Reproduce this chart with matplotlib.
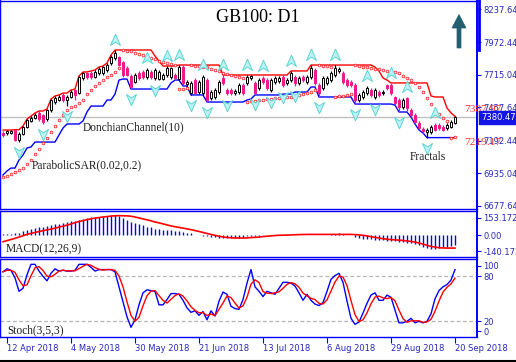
import numpy as np
import pandas as pd
import matplotlib
matplotlib.use("Agg")
import matplotlib.pyplot as plt
from matplotlib.path import Path
from matplotlib.patches import Polygon
import matplotlib.transforms as mtransforms

# ---------------- data ----------------
date_labels = ["12 Apr 2018", "4 May 2018", "30 May 2018", "21 Jun 2018",
               "13 Jul 2018", "6 Aug 2018", "29 Aug 2018", "20 Sep 2018"]
date_label_bars = [1, 17, 33, 49, 65, 81, 97, 113]

opens = [7256, 7256, 7256, 7279, 7200, 7248, 7303, 7351, 7374, 7414,
         7398, 7366, 7438, 7501, 7517, 7557, 7517, 7541, 7596, 7572,
         7691, 7731, 7731, 7699, 7731, 7731, 7755, 7810, 7850, 7858,
         7818, 7770, 7707, 7660, 7731, 7739, 7699, 7739, 7691, 7683,
         7683, 7715, 7699, 7715, 7683, 7778, 7644, 7572, 7675, 7580,
         7572, 7675, 7533, 7541, 7580, 7691, 7596, 7596, 7572, 7580,
         7636, 7652, 7691, 7652, 7612, 7691, 7675, 7596, 7660, 7667,
         7699, 7652, 7675, 7699, 7652, 7699, 7660, 7699, 7755, 7636,
         7612, 7652, 7675, 7715, 7747, 7731, 7675, 7660, 7636, 7517,
         7541, 7572, 7596, 7541, 7580, 7572, 7636, 7636, 7541, 7517,
         7462, 7533, 7438, 7398, 7335, 7287, 7264, 7264, 7319, 7319,
         7303, 7295, 7303, 7335]
highs = [7271, 7279, 7279, 7282, 7264, 7311, 7366, 7390, 7414, 7430,
         7406, 7446, 7525, 7549, 7557, 7572, 7557, 7596, 7604, 7707,
         7739, 7739, 7747, 7755, 7778, 7786, 7810, 7873, 7913, 7865,
         7826, 7786, 7723, 7731, 7747, 7755, 7770, 7755, 7770, 7755,
         7731, 7786, 7778, 7731, 7794, 7794, 7675, 7667, 7691, 7675,
         7715, 7691, 7596, 7612, 7675, 7715, 7612, 7612, 7604, 7652,
         7652, 7715, 7715, 7667, 7691, 7707, 7691, 7691, 7707, 7707,
         7715, 7691, 7747, 7715, 7707, 7715, 7715, 7794, 7770, 7652,
         7707, 7707, 7747, 7794, 7778, 7747, 7691, 7675, 7652, 7572,
         7596, 7628, 7612, 7612, 7596, 7596, 7644, 7652, 7549, 7533,
         7533, 7541, 7454, 7414, 7351, 7303, 7295, 7319, 7335, 7335,
         7319, 7335, 7359, 7387.97]
lows = [7224, 7240, 7248, 7192, 7184, 7240, 7295, 7343, 7366, 7351,
        7327, 7351, 7422, 7485, 7509, 7501, 7469, 7533, 7517, 7564,
        7675, 7683, 7683, 7691, 7715, 7715, 7739, 7794, 7834, 7786,
        7699, 7707, 7604, 7652, 7675, 7683, 7683, 7683, 7675, 7675,
        7675, 7699, 7683, 7675, 7675, 7628, 7628, 7557, 7557, 7564,
        7557, 7501, 7517, 7525, 7564, 7636, 7557, 7557, 7557, 7564,
        7557, 7636, 7675, 7564, 7596, 7644, 7596, 7580, 7644, 7652,
        7620, 7636, 7660, 7628, 7636, 7660, 7644, 7683, 7636, 7541,
        7596, 7636, 7660, 7699, 7731, 7644, 7620, 7620, 7485, 7501,
        7525, 7557, 7541, 7525, 7541, 7557, 7596, 7557, 7477, 7422,
        7446, 7430, 7382, 7327, 7279, 7256, 7219.17, 7248, 7271, 7279,
        7271, 7279, 7295, 7327]
closes = [7240, 7271, 7271, 7200, 7248, 7303, 7359, 7374, 7398, 7366,
          7343, 7438, 7517, 7533, 7541, 7517, 7541, 7580, 7557, 7699,
          7731, 7699, 7699, 7739, 7763, 7778, 7794, 7858, 7889, 7794,
          7715, 7715, 7620, 7715, 7691, 7699, 7755, 7699, 7755, 7739,
          7715, 7770, 7770, 7691, 7778, 7652, 7660, 7652, 7572, 7660,
          7699, 7517, 7580, 7596, 7660, 7652, 7572, 7572, 7588, 7636,
          7572, 7699, 7707, 7572, 7675, 7660, 7612, 7675, 7691, 7691,
          7636, 7675, 7731, 7652, 7691, 7675, 7699, 7770, 7652, 7572,
          7691, 7691, 7731, 7770, 7763, 7660, 7636, 7636, 7517, 7557,
          7580, 7612, 7557, 7596, 7557, 7580, 7612, 7572, 7493, 7462,
          7517, 7454, 7398, 7343, 7295, 7271, 7279, 7303, 7279, 7295,
          7279, 7319, 7343, 7380.47]

# highs / lows of the 9 bars before the visible window (for the Donchian channel)
pre_highs = [7002, 7042, 7058, 7105, 7137, 7161, 7200, 7240, 7279]
pre_lows = [6923, 6955, 6978, 6978, 7042, 7081, 7137, 7145, 7192]
sar_start = 6907

macd_main = [8, 12, 12, 18, 24, 35, 44, 56, 65, 74,
             77, 83, 89, 97, 103, 112, 118, 124, 130, 136,
             145, 153, 159, 162, 162, 165, 168, 177, 177, 171,
             153, 139, 118, 109, 97, 89, 77, 71, 59, 53,
             50, 47, 47, 41, 35, 30, 24, 18, 6, 1,
             -3, -10, -14, -18, -20, -22, -22, -22, -20, -20,
             -20, -10, -5, -3, -2, -1, -1, 0, 0, 0,
             1, 2, 4, 6, 6, 7, 7, 7, 7, 7,
             7, 7, 8, 10, 18, 10, 6, 3, -18, -24,
             -30, -30, -30, -38, -41, -44, -53, -53, -53, -59,
             -59, -65, -68, -77, -88, -106, -112, -118, -118, -112,
             -106, -106, -97, -88]
macd_signal = [-57, -47, -37, -27, -15, -4, 8, 17, 25, 33,
               41, 48, 55, 63, 72, 81, 90, 100, 112, 122,
               130, 138, 146, 152, 157, 162, 166, 170, 173, 174,
               173, 172, 169, 162, 154, 145, 137, 128, 118, 110,
               101, 92, 83, 76, 70, 63, 57, 50, 42, 34,
               25, 16, 8, 0, -8, -15, -19, -22, -24, -24,
               -24, -23, -20, -18, -16, -11, -8, -5, -2, 0,
               1, 2, 3, 5, 6, 7, 8, 8, 8, 8,
               8, 8, 8, 8, 8, 8, 8, 8, 6, 3,
               0, -5, -12, -18, -24, -30, -35, -38, -40, -43,
               -46, -50, -54, -60, -68, -78, -88, -98, -104, -110,
               -112, -113, -113, -113]
stoch_k = [86, 90, 88, 78, 60, 64, 82, 96, 96, 87,
           80, 74, 84, 90, 87, 88, 87, 87, 88, 96,
           96, 96, 92, 87, 89, 89, 89, 89, 86, 66,
           46, 26, 12, 22, 42, 58, 62, 61, 60, 42,
           42, 49, 57, 57, 56, 48, 38, 32, 34, 28,
           33, 22, 34, 27, 47, 59, 56, 40, 37, 36,
           49, 71, 89, 66, 60, 53, 60, 58, 56, 64,
           72, 72, 71, 67, 58, 48, 56, 48, 43, 41,
           45, 60, 76, 81, 84, 72, 47, 24, 16, 19,
           31, 44, 55, 58, 48, 48, 55, 52, 35, 18,
           18, 20, 24, 18, 20, 18, 20, 30, 50, 61,
           66, 69, 75, 89]

price_ticks = [8237.64, 7972.44, 7715.04, 7457.64, 7192.44, 6935.04, 6677.64]
macd_ticks = [153.172, 0.0, -140.172]
macd_tick_labels = ["153.172", "0.00", "-140.172"]
stoch_tick_pos = [94, 80, 20, 7]
stoch_tick_labels = ["100", "80", "20", "0"]

# ---------------- indicators ----------------
o = np.array(opens, float); h = np.array(highs, float)
l = np.array(lows, float); c = np.array(closes, float)
n = len(c)
x = np.arange(n)

hh = pd.Series(np.concatenate([pre_highs, h]))
ll = pd.Series(np.concatenate([pre_lows, l]))
npre = len(pre_highs)
dc_up = hh.rolling(10, min_periods=1).max().values[npre:]
dc_lo = ll.rolling(10, min_periods=1).min().values[npre:]


def psar(hi, lo, s0, step=0.02, amax=0.2):
    out = np.zeros(len(hi))
    up = True
    af = step
    ep = hi[0]
    out[0] = s0
    for i in range(1, len(hi)):
        s = out[i - 1] + af * (ep - out[i - 1])
        if up:
            s = min(s, lo[i - 1], lo[max(i - 2, 0)])
            if lo[i] < s:
                up = False
                s = ep
                ep = lo[i]
                af = step
            elif hi[i] > ep:
                ep = hi[i]
                af = min(af + step, amax)
        else:
            s = max(s, hi[i - 1], hi[max(i - 2, 0)])
            if hi[i] > s:
                up = True
                s = ep
                ep = hi[i]
                af = step
            elif lo[i] < ep:
                ep = lo[i]
                af = min(af + step, amax)
        out[i] = s
    return out


sar = psar(h, l, sar_start)

frac_up, frac_dn = [], []
for i in range(2, n - 2):
    if h[i] > h[i - 1] and h[i] > h[i - 2] and h[i] >= h[i + 1] and h[i] >= h[i + 2]:
        frac_up.append(i)
    if l[i] < l[i - 1] and l[i] < l[i - 2] and l[i] <= l[i + 1] and l[i] <= l[i + 2]:
        frac_dn.append(i)

stoch_d = pd.Series(stoch_k, dtype=float).rolling(3, min_periods=1).mean().values

# ---------------- figure ----------------
W, H = 516, 362
fig = plt.figure(figsize=(W / 100, H / 100), dpi=100)
fig.patch.set_facecolor("white")

BLUE = "#0000ff"
LBL = "#2828c0"
PINK = "#f0188a"
SERIF = ["Liberation Serif", "DejaVu Serif"]


def fx(px):
    return px / W


def fy(py):
    return 1 - py / H


def px_axes(left, top, right, bottom):
    return fig.add_axes([left / W, 1 - bottom / H, (right - left) / W, (bottom - top) / H])


ax = px_axes(0, 0.5, 477, 209)
axm = px_axes(0, 211, 477, 256.5)
axs = px_axes(0, 258.7, 477, 336.7)

for a in (ax, axm, axs):
    a.set_xlim(-0.75, 118.5)
    for sp in a.spines.values():
        sp.set_color(BLUE)
        sp.set_linewidth(1.0)
    a.spines["right"].set_linewidth(1.4)
    a.yaxis.tick_right()
    a.tick_params(axis="y", direction="out", length=3, width=0.8, color=BLUE,
                  labelcolor=LBL, labelsize=6, pad=1.5)
    a.set_facecolor("white")

ax.set_ylim(6653.8, 8305.0)
axm.set_ylim(-187.6, 215.1)
axs.set_ylim(-0.5, 103.5)

# ---- main panel ----
last = c[-1]
ax.axhline(last, color="#c0c0c0", lw=1.0, zorder=1)
ax.plot(x, dc_up, color="#ff0000", lw=1.0, zorder=2)
ax.plot(x, dc_lo, color="#0000ff", lw=1.0, zorder=2)
ax.plot(x, sar, linestyle="none", marker="o", ms=1.9, mfc="white", mec="#ff2020",
        mew=0.6, zorder=3)

bull = c >= o
wick_col = np.where(bull, "black", PINK)
ax.vlines(x, l, h, colors=list(wick_col), lw=0.9, zorder=4)
bw = 0.6
ax.bar(x[bull], (c - o)[bull], bottom=o[bull], width=bw, facecolor="white",
       edgecolor="black", linewidth=0.7, zorder=5)
ax.bar(x[~bull], (o - c)[~bull], bottom=c[~bull], width=bw, facecolor=PINK,
       edgecolor=PINK, linewidth=0.7, zorder=5)

up_path = Path([(0, 1), (0.8, -0.8), (0, -0.25), (-0.8, -0.8), (0, 1)],
               [Path.MOVETO, Path.LINETO, Path.LINETO, Path.LINETO, Path.CLOSEPOLY])
dn_path = Path([(0, -1), (0.8, 0.8), (0, 0.25), (-0.8, 0.8), (0, -1)],
               [Path.MOVETO, Path.LINETO, Path.LINETO, Path.LINETO, Path.CLOSEPOLY])
off = 10 * 7.919
fu = np.array(frac_up, int)
fd = np.array(frac_dn, int)
ax.plot(fu, h[fu] + off, linestyle="none", marker=up_path, ms=9,
        mfc="#bdf3f3", mec="#5ed4d4", mew=0.7, zorder=6, clip_on=False)
ax.plot(fd, l[fd] - off, linestyle="none", marker=dn_path, ms=9,
        mfc="#bdf3f3", mec="#5ed4d4", mew=0.7, zorder=6)

ax.set_xticks([])
ax.set_yticks(price_ticks)
ax.set_yticklabels([f"{v:.2f}" for v in price_ticks])

trans_bl = mtransforms.blended_transform_factory(ax.transAxes, ax.transData)
ax.annotate(f"{last:.2f}", xy=(1.0, last), xycoords=trans_bl, xytext=(3.0, 0),
            textcoords="offset points", ha="left", va="center", fontsize=6,
            color="white", annotation_clip=False, zorder=10,
            bbox=dict(boxstyle="square,pad=0.25", fc="#1414e6", ec="#1414e6"))
ax.annotate(f"{dc_up[-1]:.2f}", xy=(464 / 477, dc_up[-1]), xycoords=trans_bl,
            xytext=(0, 5), textcoords="offset points", ha="left", va="center",
            fontsize=8.2, color="#ff3030", family=SERIF, annotation_clip=False)
ax.annotate(f"{dc_lo[-1]:.2f}", xy=(464 / 477, dc_lo[-1]), xycoords=trans_bl,
            xytext=(0, -3.3), textcoords="offset points", ha="left", va="center",
            fontsize=8.2, color="#ff3030", family=SERIF, annotation_clip=False)

# ---- MACD panel ----
axm.vlines(x, 0, macd_main, colors=BLUE, lw=1.0)
axm.plot(x, macd_signal, color="#ff0000", lw=1.2)
axm.set_xticks([])
axm.set_yticks(macd_ticks)
axm.set_yticklabels(macd_tick_labels)

# ---- Stochastic panel ----
for lev in (80, 20):
    axs.axhline(lev, color="#b4b4b4", lw=0.9, linestyle=(0, (3, 2)))
axs.plot(x, stoch_k, color=BLUE, lw=1.0)
axs.plot(x, stoch_d, color="#ff0000", lw=1.0)
axs.set_yticks(stoch_tick_pos)
axs.set_yticklabels(stoch_tick_labels)
axs.set_xticks(date_label_bars)
axs.set_xticklabels(date_labels)
axs.tick_params(axis="x", direction="out", length=4, width=0.8, color=BLUE,
                labelcolor=LBL, labelsize=6, pad=1.5)
for lab in axs.get_xticklabels():
    lab.set_ha("left")

# ---- texts & decorations ----
fig.text(fx(258), fy(17), "GB100: D1", ha="center", va="center", fontsize=13,
         family=SERIF, color="black")
fig.text(fx(83), fy(127), "DonchianChannel(10)", ha="left", va="center",
         fontsize=8.3, family=SERIF, color="#202020")
fig.text(fx(32), fy(165), "ParabolicSAR(0.02,0.2)", ha="left", va="center",
         fontsize=8.3, family=SERIF, color="#202020")
fig.text(fx(410), fy(157), "Fractals", ha="left", va="center",
         fontsize=8.3, family=SERIF, color="#202020")
fig.text(fx(6), fy(249), "MACD(12,26,9)", ha="left", va="center",
         fontsize=8.3, family=SERIF, color="#202020")
fig.text(fx(7), fy(330), "Stoch(3,5,3)", ha="left", va="center",
         fontsize=8.3, family=SERIF, color="#202020")

arrow_px = [(459, 14.5), (466, 28), (461, 28), (461, 48), (457, 48), (457, 28), (452, 28)]
fig.patches.append(Polygon([(fx(px), fy(py)) for px, py in arrow_px], closed=True,
                           transform=fig.transFigure, facecolor="#235f6e",
                           edgecolor="#235f6e", lw=0.5))
fig.add_artist(plt.Line2D([fx(479), fx(479)], [fy(0), fy(50)], transform=fig.transFigure,
                          color=BLUE, lw=2.0))
fig.add_artist(plt.Line2D([0, 1], [fy(360.5), fy(360.5)], transform=fig.transFigure,
                          color="black", lw=1.5))

fig.savefig("out.png", dpi=100, facecolor="white")
